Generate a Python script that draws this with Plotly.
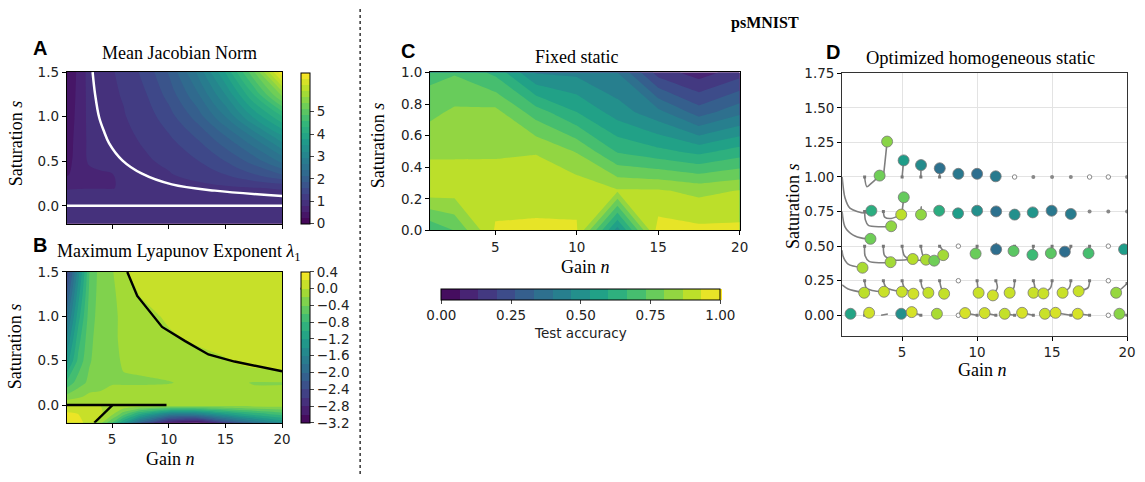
import plotly.graph_objects as go

W, H = 1145, 482
def px(x): return x / W
def py(y): return 1 - y / H

# ---------------- Panel A: Mean Jacobian Norm ----------------
a_n = [1, 2, 3, 4, 5, 6, 8, 10, 12.5, 15, 17.5, 20]
a_s = [-0.2, 0.0, 0.1, 0.2, 0.35, 0.5, 0.75, 1.0, 1.25, 1.5]
a_z = [
    [1.00, 1.03, 1.03, 1.03, 1.03, 1.03, 1.03, 1.03, 1.03, 1.03, 1.03, 1.03],
    [0.98, 1.00, 1.00, 1.00, 1.00, 1.00, 1.00, 1.00, 1.00, 1.00, 1.00, 1.00],
    [0.85, 0.88, 0.90, 0.90, 0.90, 0.90, 0.91, 0.92, 0.94, 0.96, 0.98, 1.00],
    [0.80, 0.80, 0.80, 0.80, 0.80, 0.84, 0.90, 0.94, 0.99, 1.03, 1.07, 1.10],
    [0.50, 0.70, 0.75, 0.77, 0.80, 0.86, 1.01, 1.06, 1.18, 1.35, 1.60, 1.90],
    [0.40, 0.70, 0.84, 0.90, 0.96, 1.00, 1.05, 1.13, 1.33, 1.62, 2.00, 2.50],
    [0.35, 0.68, 0.86, 0.95, 1.00, 1.02, 1.12, 1.30, 1.62, 2.08, 2.66, 3.37],
    [0.30, 0.65, 0.88, 1.00, 1.01, 1.06, 1.22, 1.50, 2.00, 2.70, 3.55, 4.30],
    [0.28, 0.62, 0.90, 1.00, 1.04, 1.10, 1.34, 1.72, 2.38, 3.25, 4.33, 5.50],
    [0.25, 0.60, 0.92, 1.01, 1.06, 1.15, 1.45, 1.92, 2.73, 3.80, 5.10, 6.70],
]
a_curve_n = [3.28, 3.5, 3.86, 4.3, 4.74, 5.9, 7.64, 10.27, 14.07, 20]
a_curve_s = [1.5, 1.25, 0.99, 0.83, 0.70, 0.51, 0.36, 0.24, 0.17, 0.11]
a_zero_n = [1, 20]
a_zero_s = [0, 0]
a_cbar_ticks = [0, 1, 2, 3, 4, 5]

# ---------------- Panel B: Maximum Lyapunov Exponent ----------------
b_n = [1, 2, 3, 4, 5, 6, 7.5, 10, 12.5, 15, 17.5, 20]
b_s = [-0.2, -0.1, 0.0, 0.1, 0.25, 0.5, 0.75, 1.0, 1.25, 1.5]
b_z = [
    [0.35, 0.30, 0.08, -0.15, -0.60, -1.20, -2.00, -2.90, -3.10, -2.40, -1.80, -1.40],
    [0.25, 0.20, 0.12, 0.03, -0.15, -0.50, -1.00, -1.60, -1.60, -1.20, -0.90, -0.70],
    [-0.005, -0.005, -0.005, -0.005, -0.005, -0.005, -0.005, -0.02, -0.05, -0.06, -0.07, -0.08],
    [-0.35, -0.25, -0.15, -0.15, -0.10, -0.10, -0.10, -0.10, -0.10, -0.12, -0.15, -0.15],
    [-0.75, -0.50, -0.35, -0.28, -0.22, -0.22, -0.22, -0.21, -0.15, -0.15, -0.21, -0.21],
    [-1.30, -0.75, -0.42, -0.30, -0.25, -0.18, -0.16, -0.10, -0.06, -0.01, 0.10, 0.15],
    [-1.60, -0.90, -0.45, -0.30, -0.25, -0.15, -0.12, -0.03, 0.03, 0.06, 0.10, 0.12],
    [-1.90, -1.10, -0.50, -0.30, -0.25, -0.15, -0.07, 0.03, 0.10, 0.12, 0.13, 0.14],
    [-2.20, -1.30, -0.55, -0.30, -0.25, -0.10, 0.01, 0.10, 0.12, 0.13, 0.14, 0.15],
    [-2.50, -1.50, -0.60, -0.30, -0.22, -0.03, 0.08, 0.12, 0.13, 0.14, 0.15, 0.15],
]
b_line1_n = [6.34, 7.22, 9.41, 11.45, 13.5, 15.8, 20]
b_line1_s = [1.5, 1.23, 0.88, 0.72, 0.57, 0.49, 0.38]
b_line2_n = [1, 9.8]
b_line2_s = [0, 0]
b_line3_n = [3.43, 5.03]
b_line3_s = [-0.2, 0.0]
b_cbar_ticks = [0.4, 0.0, -0.4, -0.8, -1.2, -1.6, -2.0, -2.4, -2.8, -3.2]
b_cbar_text = ["0.4", "0.0", "\u22120.4", "\u22120.8", "\u22121.2", "\u22121.6",
               "\u22122.0", "\u22122.4", "\u22122.8", "\u22123.2"]

# ---------------- Panel C: Fixed static ----------------
c_n = [1, 2.5, 5, 7.5, 10, 12.5, 15, 17.5, 20]
c_s = [0, 0.25, 0.5, 0.75, 1.0]
c_z = [
    [0.68, 0.736, 0.94, 0.945, 0.94, 0.50, 0.965, 0.95, 0.95],
    [0.905, 0.897, 0.911, 0.908, 0.915, 0.875, 0.875, 0.85, 0.87],
    [0.857, 0.859, 0.856, 0.863, 0.795, 0.66, 0.62, 0.58, 0.63],
    [0.782, 0.812, 0.82, 0.70, 0.60, 0.50, 0.42, 0.30, 0.38],
    [0.71, 0.727, 0.65, 0.46, 0.45, 0.40, 0.17, 0.10, 0.17],
]
c_cbar_ticks = [0, 0.25, 0.5, 0.75, 1.0]
c_cbar_text = ["0.00", "0.25", "0.50", "0.75", "1.00"]

# ---------------- Panel D: Optimized homogeneous static ----------------
d_paths = [
    # start s = 1.0
    [(1.0, 1.0), (1.19, 0.85), (1.52, 0.775), (2.5, 0.74), (2.95, 0.756)],
    [(2.5, 1.0), (2.65, 0.93), (3.0, 0.96), (3.5, 1.01)],
    [(3.75, 1.0), (3.85, 1.1), (4.0, 1.256)],
    [(5.0, 1.0), (5.1, 1.12)],
    [(6.25, 1.0), (6.26, 1.086)],
    [(7.5, 1.0), (7.51, 1.063)],
    [(8.75, 1.0), (8.75, 1.023)],
    [(10.0, 1.0), (10.0, 1.023)],
    [(11.25, 1.0), (11.24, 1.005)],
    # start s = 0.75
    [(1.0, 0.75), (1.19, 0.64), (1.74, 0.58), (2.4, 0.556), (2.89, 0.553)],
    [(2.5, 0.75), (2.55, 0.69), (2.75, 0.65), (3.5, 0.64), (4.27, 0.644)],
    [(3.75, 0.75), (3.84, 0.71), (4.27, 0.70), (4.94, 0.728)],
    [(5.0, 0.75), (5.11, 0.853)],
    [(6.25, 0.75), (6.27, 0.785), (6.26, 0.728)],
    [(7.5, 0.75), (7.5, 0.785), (7.47, 0.756)],
    [(8.75, 0.75), (8.73, 0.737)],
    [(10.0, 0.75), (10.0, 0.756)],
    [(11.25, 0.75), (11.27, 0.751)],
    [(12.5, 0.75), (12.5, 0.728)],
    [(13.75, 0.75), (13.71, 0.744)],
    [(15.0, 0.75), (14.97, 0.756)],
    [(16.25, 0.75), (16.25, 0.733)],
    # start s = 0.5
    [(1.0, 0.47), (1.05, 0.43), (1.4, 0.37), (2.36, 0.344)],
    [(2.5, 0.5), (2.53, 0.43), (2.8, 0.39), (3.5, 0.38), (4.23, 0.384)],
    [(3.75, 0.5), (3.84, 0.43), (4.5, 0.40), (5.71, 0.407)],
    [(5.0, 0.5), (5.15, 0.43), (5.6, 0.40), (6.59, 0.402)],
    [(6.25, 0.5), (6.4, 0.43), (6.7, 0.40), (7.14, 0.395)],
    [(7.5, 0.5), (7.7, 0.47), (7.74, 0.435)],
    [(10.0, 0.5), (9.9, 0.446)],
    [(11.25, 0.5), (11.27, 0.52), (11.27, 0.477)],
    [(12.5, 0.5), (12.43, 0.465)],
    [(13.75, 0.5), (13.69, 0.437)],
    [(15.0, 0.5), (14.92, 0.449)],
    [(16.25, 0.5), (16.2, 0.48), (15.85, 0.46)],
    [(17.5, 0.5), (17.43, 0.449)],
    [(20.0, 0.5), (19.8, 0.477)],
    # start s = 0.25
    [(1.0, 0.22), (1.4, 0.19), (2.47, 0.163)],
    [(2.5, 0.25), (2.6, 0.2), (3.0, 0.18), (3.79, 0.17)],
    [(3.75, 0.25), (3.95, 0.2), (4.98, 0.17)],
    [(5.0, 0.25), (5.15, 0.2), (5.75, 0.156)],
    [(6.25, 0.25), (6.35, 0.2), (6.75, 0.163)],
    [(7.5, 0.25), (7.6, 0.2), (7.8, 0.156)],
    [(10.0, 0.25), (10.05, 0.2), (10.1, 0.163)],
    [(11.25, 0.25), (11.35, 0.2), (11.05, 0.144)],
    [(12.5, 0.25), (12.45, 0.2), (12.17, 0.163)],
    [(13.75, 0.25), (13.85, 0.2), (13.76, 0.163)],
    [(15.0, 0.25), (14.9, 0.2), (14.42, 0.158)],
    [(16.25, 0.25), (16.15, 0.2), (15.7, 0.163)],
    [(17.5, 0.25), (17.4, 0.2), (16.77, 0.174)],
    [(20.0, 0.23), (19.6, 0.19), (19.27, 0.163)],
    # start s = 0
    [(1.25, 0.0), (1.56, 0.011)],
    [(2.5, 0.0), (2.8, 0.018)],
    [(5.0, 0.0), (4.94, 0.011)],
    [(6.25, 0.0), (5.64, 0.023)],
    [(7.5, 0.0), (7.32, 0.011)],
    [(10.0, 0.0), (9.2, 0.016)],
    [(11.25, 0.0), (10.5, 0.016)],
    [(12.5, 0.0), (11.84, 0.011)],
    [(13.75, 0.0), (13.0, 0.018)],
    [(15.0, 0.0), (14.52, 0.011)],
    [(16.25, 0.0), (15.23, 0.018)],
    [(17.5, 0.0), (16.71, 0.011)],
    [(20.0, 0.0), (19.49, 0.011)],
]
d_acc = [
    0.62, 0.78, 0.82, 0.55, 0.48, 0.37, 0.40, 0.36, 0.41,
    0.78, 0.83, 0.90, 0.76, 0.83, 0.62, 0.55, 0.50, 0.37, 0.50, 0.52, 0.40, 0.42,
    0.87, 0.86, 0.89, 0.87, 0.78, 0.86, 0.77, 0.36, 0.74, 0.68, 0.74, 0.36, 0.70, 0.55,
    0.90, 0.92, 0.92, 0.93, 0.91, 0.91, 0.92, 0.93, 0.92, 0.92, 0.92, 0.92, 0.92, 0.84,
    0.58, 0.93, 0.50, 0.94, 0.87, 0.94, 0.93, 0.91, 0.94, 0.92, 0.94, 0.94, 0.82,
]
d_dash_paths = [[(3.6, 0.0), (4.05, 0.01)]]
d_open_n = [12.5, 17.5, 18.75, 8.75, 18.75, 8.75, 18.75, 8.75, 18.75]
d_open_s = [1.0, 1.0, 1.0, 0.5, 0.5, 0.25, 0.25, 0.0, 0.0]
d_fail_n = [13.75, 15.0, 16.25, 20.0, 17.5, 18.75, 20.0]
d_fail_s = [1.0, 1.0, 1.0, 1.0, 0.75, 0.75, 0.75]

# ---------------- styling helpers ----------------
SERIF = "Liberation Serif"
SANS = "DejaVu Sans"
TICKFONT = dict(family=SANS, size=13.5, color="#222")

fig = go.Figure()

fig.add_trace(go.Contour(
    x=a_n, y=a_s, z=a_z, xaxis="x", yaxis="y",
    colorscale="Viridis", zmin=0, zmax=6.75, autocontour=False,
    contours=dict(start=0, end=6.75, size=0.27, coloring="fill", showlines=False),
    line=dict(width=0, smoothing=1.2),
    colorbar=dict(x=px(303), xanchor="left", y=py(144.85), yanchor="middle",
                  len=156.3 / H, lenmode="fraction", thickness=9, thicknessmode="pixels",
                  outlinecolor="black", outlinewidth=1, ticks="outside", ticklen=4,
                  tickvals=a_cbar_ticks, tickfont=TICKFONT, xpad=0, ypad=0),
))
fig.add_trace(go.Scatter(x=a_curve_n, y=a_curve_s, xaxis="x", yaxis="y", mode="lines",
                         line=dict(color="white", width=2.5, shape="spline", smoothing=1.0),
                         showlegend=False, hoverinfo="skip"))
fig.add_trace(go.Scatter(x=a_zero_n, y=a_zero_s, xaxis="x", yaxis="y", mode="lines",
                         line=dict(color="white", width=2.5), showlegend=False, hoverinfo="skip"))

fig.add_trace(go.Contour(
    x=b_n, y=b_s, z=b_z, xaxis="x2", yaxis="y2",
    colorscale="Viridis", zmin=-3.2, zmax=0.4, autocontour=False,
    contours=dict(start=-3.2, end=0.4, size=0.2, coloring="fill", showlines=False),
    line=dict(width=0, smoothing=0.6),
    colorbar=dict(x=px(303), xanchor="left", y=py(351), yanchor="middle",
                  len=156 / H, lenmode="fraction", thickness=9, thicknessmode="pixels",
                  outlinecolor="black", outlinewidth=1, ticks="outside", ticklen=4,
                  tickvals=b_cbar_ticks, ticktext=b_cbar_text, tickfont=TICKFONT,
                  xpad=0, ypad=0),
))
for ln, ls in [(b_line1_n, b_line1_s), (b_line2_n, b_line2_s), (b_line3_n, b_line3_s)]:
    fig.add_trace(go.Scatter(x=ln, y=ls, xaxis="x2", yaxis="y2", mode="lines",
                             line=dict(color="black", width=2.4), showlegend=False,
                             hoverinfo="skip"))

fig.add_trace(go.Contour(
    x=c_n, y=c_s, z=c_z, xaxis="x3", yaxis="y3",
    colorscale="Viridis", zmin=0, zmax=1, autocontour=False,
    contours=dict(start=0, end=1, size=1 / 15, coloring="fill", showlines=False),
    line=dict(width=0, smoothing=0),
    colorbar=dict(orientation="h", x=px(585.5), xanchor="center", y=py(291), yanchor="top",
                  len=281 / W, lenmode="fraction", thickness=11, thicknessmode="pixels",
                  outlinecolor="black", outlinewidth=1, ticks="outside", ticklen=4,
                  tickvals=c_cbar_ticks, ticktext=c_cbar_text, tickfont=TICKFONT,
                  title=dict(text="Test accuracy", side="bottom",
                             font=dict(family=SANS, size=13.5, color="#222")),
                  xpad=0, ypad=0),
))

# Panel D trajectories
tx, ty = [], []
for p in d_paths + d_dash_paths:
    for (n, s) in p:
        tx.append(n); ty.append(s)
    tx.append(None); ty.append(None)
fig.add_trace(go.Scatter(x=tx, y=ty, xaxis="x4", yaxis="y4", mode="lines",
                         line=dict(color="#7f7f7f", width=1.6, shape="spline", smoothing=0.8),
                         connectgaps=False, showlegend=False, hoverinfo="skip"))
fig.add_trace(go.Scatter(x=[p[0][0] for p in d_paths if p[0][0] >= 2.5],
                         y=[p[0][1] for p in d_paths if p[0][0] >= 2.5],
                         xaxis="x4", yaxis="y4", mode="markers",
                         marker=dict(size=3, color="#777", symbol="square"),
                         showlegend=False, hoverinfo="skip"))
fig.add_trace(go.Scatter(x=d_fail_n, y=d_fail_s, xaxis="x4", yaxis="y4", mode="markers",
                         marker=dict(size=4, color="#888"), showlegend=False, hoverinfo="skip"))
fig.add_trace(go.Scatter(x=d_open_n, y=d_open_s, xaxis="x4", yaxis="y4", mode="markers",
                         marker=dict(size=4.5, color="white", line=dict(color="#888", width=1)),
                         showlegend=False, hoverinfo="skip"))
fig.add_trace(go.Scatter(x=[p[-1][0] for p in d_paths], y=[p[-1][1] for p in d_paths],
                         xaxis="x4", yaxis="y4", mode="markers",
                         marker=dict(size=11, color=d_acc, colorscale="Viridis", cmin=0, cmax=1,
                                     showscale=False, line=dict(color="#777", width=0.8)),
                         showlegend=False, hoverinfo="skip"))

axis_common = dict(showline=True, mirror=True, linecolor="black", linewidth=1,
                   ticks="outside", ticklen=4, tickcolor="black", showgrid=False,
                   zeroline=False, tickfont=TICKFONT)

dom_ax_A = [px(67.3), px(284.3)]
fig.update_layout(
    width=W, height=H, margin=dict(l=0, r=0, t=0, b=0),
    paper_bgcolor="white", plot_bgcolor="white", showlegend=False,
    xaxis=dict(domain=dom_ax_A, range=[1, 20], tickvals=[5, 10, 15, 20],
               showticklabels=False, anchor="y", **axis_common),
    yaxis=dict(domain=[py(223), py(66.3)], range=[-0.2, 1.5], tickvals=[0, 0.5, 1.0, 1.5],
               ticktext=["0.0", "0.5", "1.0", "1.5"], anchor="x", **axis_common),
    xaxis2=dict(domain=dom_ax_A, range=[1, 20], tickvals=[5, 10, 15, 20], anchor="y2",
                **axis_common),
    yaxis2=dict(domain=[py(429), py(273)], range=[-0.2, 1.5], tickvals=[0, 0.5, 1.0, 1.5],
                ticktext=["0.0", "0.5", "1.0", "1.5"], anchor="x2", **axis_common),
    xaxis3=dict(domain=[px(433.5), px(745.5)], range=[1, 20], tickvals=[5, 10, 15, 20],
                anchor="y3", **axis_common),
    yaxis3=dict(domain=[py(230), py(66.7)], range=[0, 1], tickvals=[0, 0.2, 0.4, 0.6, 0.8, 1.0],
                ticktext=["0.0", "0.2", "0.4", "0.6", "0.8", "1.0"], anchor="x3", **axis_common),
    xaxis4=dict(domain=[px(848.8), px(1136)], range=[1, 20], tickvals=[5, 10, 15, 20],
                anchor="y4", **{**axis_common, "showgrid": True, "gridcolor": "#e3e3e3",
                                "linecolor": "#333"}),
    yaxis4=dict(domain=[py(339.3), py(67.5)], range=[-0.15, 1.75],
                tickvals=[0, 0.25, 0.5, 0.75, 1.0, 1.25, 1.5, 1.75],
                ticktext=["0.00", "0.25", "0.50", "0.75", "1.00", "1.25", "1.50", "1.75"],
                anchor="x4", **{**axis_common, "showgrid": True, "gridcolor": "#e3e3e3",
                                "linecolor": "#333"}),
)

def ann(text, x, y, size, family=SERIF, bold=False, angle=0, color="black"):
    if bold:
        text = "<b>" + text + "</b>"
    fig.add_annotation(text=text, x=px(x), y=py(y), xref="paper", yref="paper",
                       showarrow=False, xanchor="center", yanchor="middle", textangle=angle,
                       font=dict(family=family, size=size, color=color))

ann("A", 40, 41, 20, family="Liberation Sans", bold=True)
ann("B", 40, 245, 20, family="Liberation Sans", bold=True)
ann("C", 411, 44, 20, family="Liberation Sans", bold=True)
ann("D", 840, 45, 20, family="Liberation Sans", bold=True)
ann("psMNIST", 771, 15, 16, bold=True)
ann("Mean Jacobian Norm", 181, 47, 18)
ann("Maximum Lyapunov Exponent <i>λ</i><sub>1</sub>", 180, 253, 18)
ann("Fixed static", 582, 51, 18)
ann("Optimized homogeneous static", 988, 52, 18.5)
ann("Saturation <i>s</i>", 16, 140, 18, angle=-90)
ann("Saturation <i>s</i>", 16, 350, 18, angle=-90)
ann("Saturation <i>s</i>", 381, 142, 18, angle=-90)
ann("Saturation <i>s</i>", 799, 205, 18, angle=-90)
ann("Gain <i>n</i>", 172, 467, 18)
ann("Gain <i>n</i>", 590, 268, 18)
ann("Gain <i>n</i>", 990, 374, 18)

# dotted separator and colorbar level marks
fig.add_shape(type="line", xref="paper", yref="paper", x0=px(363), x1=px(363), y0=0, y1=1,
              line=dict(color="#333", width=1.5, dash="dot"))
fig.add_shape(type="line", xref="paper", yref="paper", x0=px(303), x1=px(312),
              y0=py(199.8), y1=py(199.8), line=dict(color="white", width=2))
fig.add_shape(type="line", xref="paper", yref="paper", x0=px(303), x1=px(312),
              y0=py(290.3), y1=py(290.3), line=dict(color="black", width=2))

fig.write_html("out.html")
